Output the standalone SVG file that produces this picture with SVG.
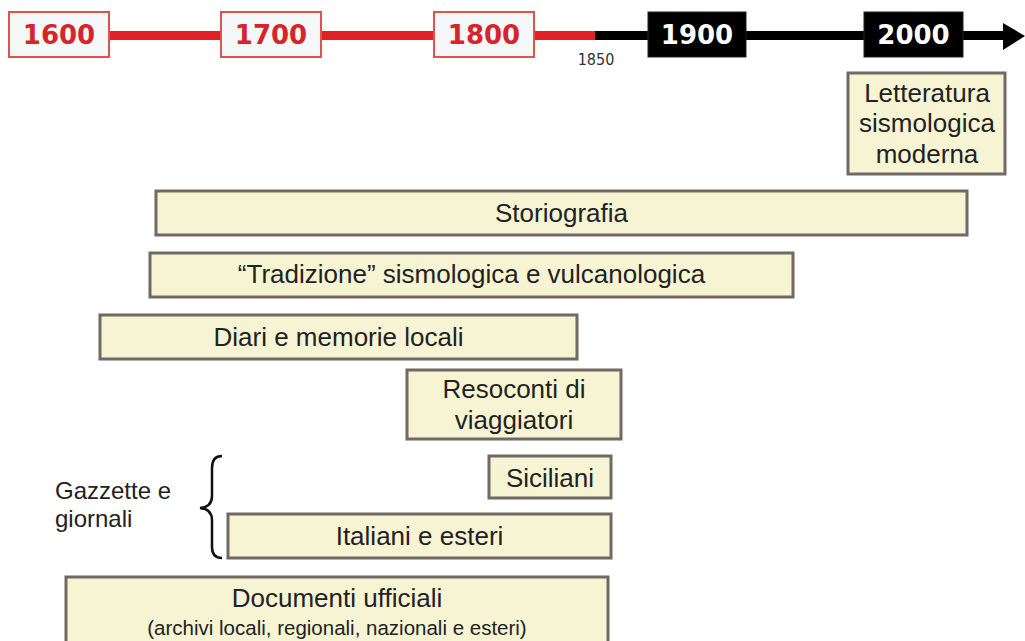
<svg xmlns="http://www.w3.org/2000/svg" width="1025" height="641" viewBox="0 0 1025 641">
<style>
.yr-old rect{fill:#f5f8f9;stroke:#e2514b;stroke-width:2}
.yr-old text{fill:#d7232a}
.yr-new rect{fill:#000;stroke:#222;stroke-width:1}
.yr-new text{fill:#fff}
.yr text{font-family:"DejaVu Sans",Verdana,sans-serif;font-weight:bold;font-size:26px;text-anchor:middle}
.box rect{fill:#f6f4d3;stroke:#716963;stroke-width:3}
.box text,.lbl{font-family:"Liberation Sans",Arial,sans-serif;font-size:26px;fill:#222;text-anchor:middle}
.box text.sub{font-size:20.5px}
.lbl{text-anchor:start;font-size:24px}
</style>
<rect width="1025" height="641" fill="#fff"/>
<g id="connectors">
<rect x="108" y="31" width="488" height="9" fill="#e01f26"/>
<rect x="595" y="31" width="412" height="9" fill="#000"/>
<polygon points="1003,23 1025,36 1003,50" fill="#000"/>
</g>
<g id="y1600" class="yr yr-old"><rect x="9" y="12" width="100" height="45"/><text x="59" y="44">1600</text></g>
<g id="y1700" class="yr yr-old"><rect x="221" y="12" width="100" height="45"/><text x="271" y="44">1700</text></g>
<g id="y1800" class="yr yr-old"><rect x="434" y="12" width="100" height="45"/><text x="484" y="44">1800</text></g>
<g id="y1850"><text x="596" y="65" font-family="'DejaVu Sans Condensed','DejaVu Sans',sans-serif" font-size="16" fill="#333" text-anchor="middle">1850</text></g>
<g id="y1900" class="yr yr-new"><rect x="648" y="12" width="98" height="45"/><text x="697" y="44">1900</text></g>
<g id="y2000" class="yr yr-new"><rect x="864" y="12" width="99" height="45"/><text x="913.5" y="44">2000</text></g>
<g id="letteratura" class="box"><rect x="848" y="73" width="157" height="101"/><text x="927" y="102">Letteratura</text><text x="927" y="132">sismologica</text><text x="927" y="163">moderna</text></g>
<g id="storiografia" class="box"><rect x="156" y="191" width="811" height="44"/><text x="561.5" y="222">Storiografia</text></g>
<g id="tradizione" class="box"><rect x="150" y="253" width="643" height="44"/><text x="471.5" y="283">“Tradizione” sismologica e vulcanologica</text></g>
<g id="diari" class="box"><rect x="100" y="315" width="477" height="44"/><text x="338.5" y="346">Diari e memorie locali</text></g>
<g id="resoconti" class="box"><rect x="407" y="370" width="214" height="69"/><text x="514" y="398">Resoconti di</text><text x="514" y="429">viaggiatori</text></g>
<g id="siciliani" class="box"><rect x="489" y="456" width="122" height="42"/><text x="550" y="487">Siciliani</text></g>
<g id="italiani" class="box"><rect x="228" y="514" width="383" height="44"/><text x="419.5" y="545">Italiani e esteri</text></g>
<g id="gazzette">
<text class="lbl" x="55" y="499">Gazzette e</text>
<text class="lbl" x="55" y="527">giornali</text>
<path d="M222,456 Q212,456 212,468 L212,496 Q212,507 200,508 Q212,509 212,520 L212,547 Q212,558 222,558" fill="none" stroke="#111" stroke-width="2.5"/>
</g>
<g id="documenti" class="box"><rect x="66" y="577" width="542" height="80"/><text x="337" y="607">Documenti ufficiali</text><text class="sub" x="337" y="635">(archivi locali, regionali, nazionali e esteri)</text></g>
</svg>
